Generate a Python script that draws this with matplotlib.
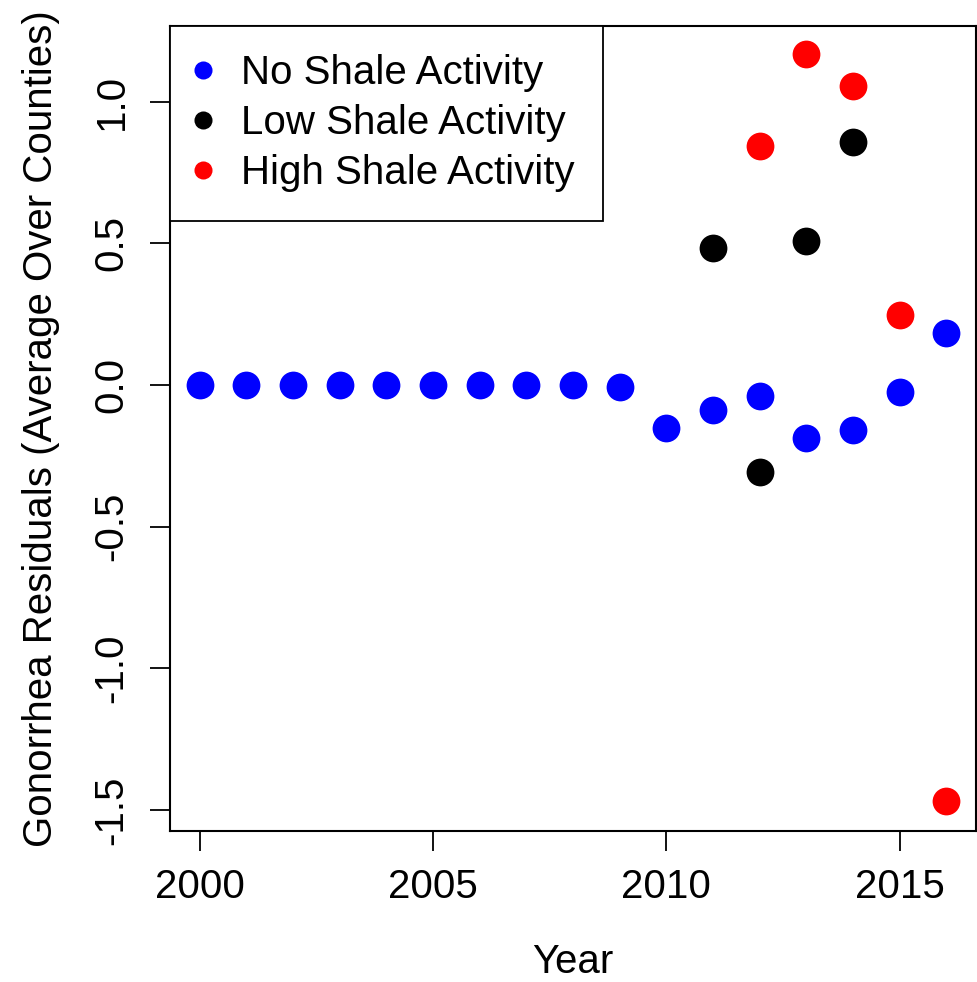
import matplotlib
matplotlib.use("Agg")
import matplotlib.pyplot as plt
from matplotlib.lines import Line2D

plt.rcParams['font.family'] = ['Liberation Sans', 'DejaVu Sans']

# data
no_years = list(range(2000, 2017))
no_vals = [0.0, 0.0, 0.0, 0.0, 0.0, 0.0, 0.0, 0.0, 0.0, -0.007,
           -0.152, -0.088, -0.039, -0.187, -0.159, -0.025, 0.183]
low_years = [2011, 2012, 2013, 2014]
low_vals = [0.483, -0.307, 0.508, 0.857]
high_years = [2012, 2013, 2014, 2015, 2016]
high_vals = [0.843, 1.168, 1.055, 0.247, -1.468]

labels = ["No Shale Activity", "Low Shale Activity", "High Shale Activity"]
colors = ["blue", "black", "red"]

W, H = 977, 982
fs = 29

fig = plt.figure(figsize=(W / 100, H / 100), dpi=100)
ax = fig.add_axes([170 / W, 1 - 831 / H, 806 / W, 805 / H])

ms = 20
ax.plot(no_years, no_vals, 'o', color=colors[0], ms=ms, mec='none')
ax.plot(low_years, low_vals, 'o', color=colors[1], ms=ms, mec='none')
ax.plot(high_years, high_vals, 'o', color=colors[2], ms=ms, mec='none')

ax.set_xlim(1999.36, 2016.64)
ax.set_ylim(-1.574, 1.267)
ax.set_xticks([2000, 2005, 2010, 2015])
ax.set_yticks([-1.5, -1.0, -0.5, 0.0, 0.5, 1.0])
ax.set_yticklabels(["-1.5", "-1.0", "-0.5", "0.0", "0.5", "1.0"])
for s in ax.spines.values():
    s.set_linewidth(1.5)
ax.tick_params(axis='both', length=14.4, width=1.3, labelsize=fs)
ax.tick_params(axis='x', pad=12)
ax.tick_params(axis='y', pad=14)
plt.setp(ax.get_yticklabels(), rotation=90, va='center')

# axis titles placed like R's mtext (baseline positions)
fig.text(573 / W, 1 - 973 / H, "Year", fontsize=fs, ha='center', va='baseline')
fig.text(52 / W, 1 - 428.5 / H, "Gonorrhea Residuals (Average Over Counties)",
         fontsize=fs, ha='center', va='baseline', rotation=90, rotation_mode='anchor')

handles = [Line2D([], [], ls='none', marker='o', color=c, ms=13, mec='none') for c in colors]
leg = ax.legend(handles, labels, loc='upper left', bbox_to_anchor=(0, 1),
                borderaxespad=0, fontsize=fs, fancybox=False, framealpha=1,
                edgecolor='black', handlelength=0.25, handletextpad=0.82,
                labelspacing=0.3, borderpad=0.7)
leg.get_frame().set_linewidth(1.3)

fig.savefig("out.png", dpi=100)
